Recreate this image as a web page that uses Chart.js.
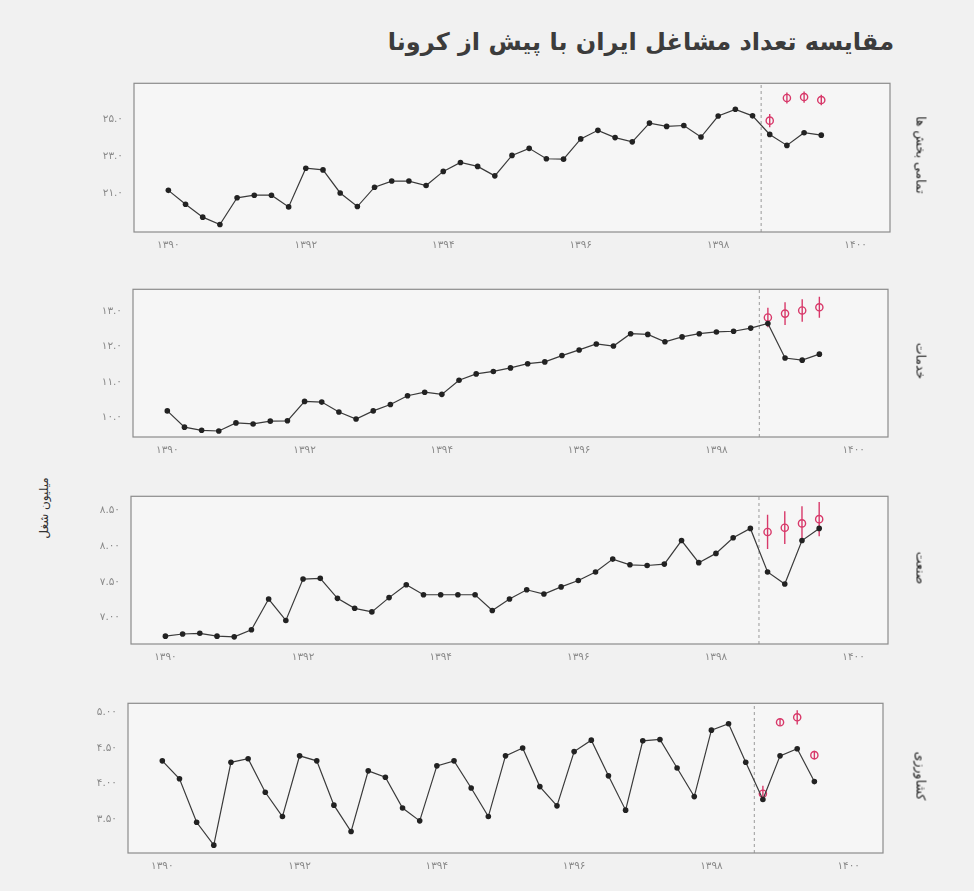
<!DOCTYPE html>
<html lang="fa">
<head>
<meta charset="utf-8">
<script src="https://cdn.jsdelivr.net/npm/chart.js@4/dist/chart.umd.min.js"></script>
<style>
  html, body { margin: 0; padding: 0; background: #f1f1f1; }
  #wrap { position: relative; width: 974px; height: 891px; overflow: hidden; background: #f1f1f1; font-family: "DejaVu Sans", sans-serif; }
  canvas { position: absolute; left: 0; }
  .title { position: absolute; right: 80px; top: 28px; font: bold 24px "DejaVu Sans", sans-serif; color: #3c3c3c; direction: rtl; white-space: nowrap; }
  .ylab { position: absolute; left: 44px; top: 508px; transform: translate(-50%, -50%) rotate(-90deg); font: 12px "DejaVu Sans", sans-serif; color: #333; direction: rtl; white-space: nowrap; }
  .strip { position: absolute; left: 921px; transform: translate(-50%, -50%) rotate(90deg); font: 12.5px "DejaVu Sans", sans-serif; color: #222; direction: rtl; white-space: nowrap; }
</style>
</head>
<body>
<div id="wrap">
  <div class="title">مقایسه تعداد مشاغل ایران با پیش از کرونا</div>
  <div class="ylab">میلیون شغل</div>
</div>
<script>
// ---------------- DATA ----------------
const quarters = [1390.00,1390.25,1390.50,1390.75,1391.00,1391.25,1391.50,1391.75,
                  1392.00,1392.25,1392.50,1392.75,1393.00,1393.25,1393.50,1393.75,
                  1394.00,1394.25,1394.50,1394.75,1395.00,1395.25,1395.50,1395.75,
                  1396.00,1396.25,1396.50,1396.75,1397.00,1397.25,1397.50,1397.75,
                  1398.00,1398.25,1398.50,1398.75,1399.00,1399.25,1399.50];
const forecastQuarters = [1398.75, 1399.00, 1399.25, 1399.50];
const covidStart = 1398.625;
const yearTicks = [1390, 1392, 1394, 1396, 1398, 1400];

const panelNames = ["تمامی بخش ها", "خدمات", "صنعت", "کشاورزی"];

const totalJobs = [21.16,20.41,19.72,19.32,20.76,20.90,20.90,20.27,22.35,22.26,21.02,20.29,21.33,21.66,21.66,21.42,
                   22.18,22.66,22.45,21.94,23.04,23.42,22.86,22.84,23.93,24.39,24.00,23.77,24.78,24.60,24.65,24.03,
                   25.16,25.52,25.17,24.17,23.58,24.26,24.13];
const totalForecast = [24.91, 26.13, 26.18, 26.02];
const totalError = [0.36, 0.30, 0.30, 0.28];

const servicesJobs = [10.18,9.72,9.63,9.61,9.84,9.81,9.89,9.90,10.45,10.43,10.15,9.95,10.18,10.36,10.61,10.71,
                      10.65,11.05,11.23,11.30,11.40,11.52,11.57,11.75,11.91,12.08,12.02,12.37,12.35,12.14,12.28,12.37,
                      12.42,12.44,12.53,12.66,11.68,11.62,11.79];
const servicesForecast = [12.83, 12.94, 13.03, 13.12];
const servicesError = [0.28, 0.32, 0.32, 0.30];

const industryJobs = [6.74,6.77,6.78,6.74,6.73,6.83,7.26,6.96,7.54,7.55,7.27,7.13,7.08,7.28,7.46,7.32,
                      7.32,7.32,7.32,7.10,7.26,7.39,7.33,7.43,7.52,7.64,7.82,7.74,7.73,7.75,8.08,7.77,
                      7.90,8.12,8.25,7.64,7.47,8.08,8.25];
const industryForecast = [8.20, 8.26, 8.32, 8.38];
const industryError = [0.24, 0.23, 0.24, 0.24];

const agriJobs = [4.32,4.07,3.46,3.14,4.30,4.35,3.88,3.54,4.39,4.32,3.70,3.33,4.18,4.09,3.66,3.48,
                  4.25,4.32,3.94,3.54,4.39,4.50,3.96,3.69,4.45,4.61,4.11,3.63,4.60,4.62,4.22,3.82,
                  4.75,4.84,4.30,3.78,4.39,4.49,4.03];
const agriForecast = [3.86, 4.86, 4.93, 4.40];
const agriError = [0.11, 0.05, 0.10, 0.06];

const yTicksTotal = [21, 23, 25];
const yTicksServices = [10, 11, 12, 13];
const yTicksIndustry = [7.0, 7.5, 8.0, 8.5];
const yTicksAgri = [3.5, 4.0, 4.5, 5.0];

// ---------------- LAYOUT / STYLE ----------------
const panels = [
  { name: panelNames[0], values: totalJobs, fc: totalForecast, err: totalError, ticks: yTicksTotal, dec: 1,
    yMin: 18.92, yMax: 26.92, L: 134, R: 890, T: 78, B: 232 },
  { name: panelNames[1], values: servicesJobs, fc: servicesForecast, err: servicesError, ticks: yTicksServices, dec: 1,
    yMin: 9.44, yMax: 13.63, L: 133, R: 888, T: 284, B: 437 },
  { name: panelNames[2], values: industryJobs, fc: industryForecast, err: industryError, ticks: yTicksIndustry, dec: 2,
    yMin: 6.63, yMax: 8.70, L: 131, R: 888, T: 491, B: 644 },
  { name: panelNames[3], values: agriJobs, fc: agriForecast, err: agriError, ticks: yTicksAgri, dec: 2,
    yMin: 3.03, yMax: 5.126, L: 128, R: 883, T: 698, B: 853 }
];

const faDigits = "۰۱۲۳۴۵۶۷۸۹";
function toFa(str) { return String(str).replace(/[0-9]/g, d => faDigits[+d]); }

const boxPlugin = {
  id: 'box',
  beforeDraw(chart) {
    const a = chart.chartArea, ctx = chart.ctx;
    ctx.save();
    ctx.fillStyle = '#f6f6f6';
    ctx.fillRect(a.left, a.top, a.right - a.left, a.bottom - a.top);
    ctx.restore();
  },
  afterDraw(chart) {
    const a = chart.chartArea, ctx = chart.ctx;
    ctx.save();
    ctx.strokeStyle = '#8c8c8c';
    ctx.lineWidth = 1.2;
    ctx.strokeRect(a.left, a.top, a.right - a.left, a.bottom - a.top);
    ctx.restore();
  }
};

const wrap = document.getElementById('wrap');
const PADTOP = 12, XH = 30, W = 974;
const RED = '#d8396a';

panels.forEach((p, i) => {
  const c = document.createElement('canvas');
  const h = (p.B - p.T) + PADTOP + XH;
  c.width = W; c.height = h;
  c.style.top = (p.T - PADTOP) + 'px';
  c.style.width = W + 'px'; c.style.height = h + 'px';
  wrap.appendChild(c);

  const strip = document.createElement('div');
  strip.className = 'strip';
  strip.style.top = ((p.T + p.B) / 2) + 'px';
  strip.textContent = p.name;
  wrap.appendChild(strip);

  const mainData = quarters.map((q, k) => ({ x: q, y: p.values[k] }));
  const fcData = forecastQuarters.map((q, k) => ({ x: q, y: p.fc[k] }));
  const errData = [];
  forecastQuarters.forEach((q, k) => {
    errData.push({ x: q, y: p.fc[k] - p.err[k] });
    errData.push({ x: q, y: p.fc[k] + p.err[k] });
    errData.push({ x: q, y: null });
  });
  const vline = [{ x: covidStart, y: p.yMin }, { x: covidStart, y: p.yMax }];

  new Chart(c, {
    type: 'line',
    data: {
      datasets: [
        { data: vline, borderColor: '#9a9a9a', borderWidth: 1, borderDash: [3, 3], pointRadius: 0, fill: false, order: 5 },
        { data: errData, borderColor: RED, borderWidth: 1.4, pointRadius: 0, spanGaps: false, fill: false, order: 3 },
        { data: fcData, showLine: false, pointRadius: 3.6, pointBorderWidth: 1.4, pointBackgroundColor: 'rgba(0,0,0,0)', pointBorderColor: RED, order: 2 },
        { data: mainData, borderColor: '#3a3a3a', borderWidth: 1.2, pointRadius: 2.8, pointBackgroundColor: '#222', pointBorderColor: '#222', pointBorderWidth: 0, tension: 0, fill: false, order: 1 }
      ]
    },
    options: {
      responsive: false,
      animation: false,
      devicePixelRatio: 1,
      layout: { padding: { left: 0, right: W - p.R, top: PADTOP, bottom: 0 } },
      plugins: { legend: { display: false }, tooltip: { enabled: false }, title: { display: false } },
      scales: {
        x: {
          type: 'linear', min: 1389.5, max: 1400.5,
          afterBuildTicks: s => { s.ticks = yearTicks.map(v => ({ value: v })); },
          afterFit: s => { s.height = XH; },
          grid: { display: false, drawTicks: false },
          border: { display: false },
          ticks: { color: '#8a8a8a', font: { family: 'DejaVu Sans', size: 10.5 }, padding: 7, maxRotation: 0, autoSkip: false,
                   callback: v => toFa(v) }
        },
        y: {
          min: p.yMin, max: p.yMax,
          afterBuildTicks: s => { s.ticks = p.ticks.map(v => ({ value: v })); },
          afterFit: s => { s.width = p.L; },
          grid: { display: false, drawTicks: false },
          border: { display: false },
          ticks: { color: '#8a8a8a', font: { family: 'DejaVu Sans', size: 10.5 }, padding: 11, autoSkip: false,
                   callback: v => toFa(Number(v).toFixed(p.dec)) }
        }
      }
    },
    plugins: [boxPlugin]
  });
});
</script>
</body>
</html>
